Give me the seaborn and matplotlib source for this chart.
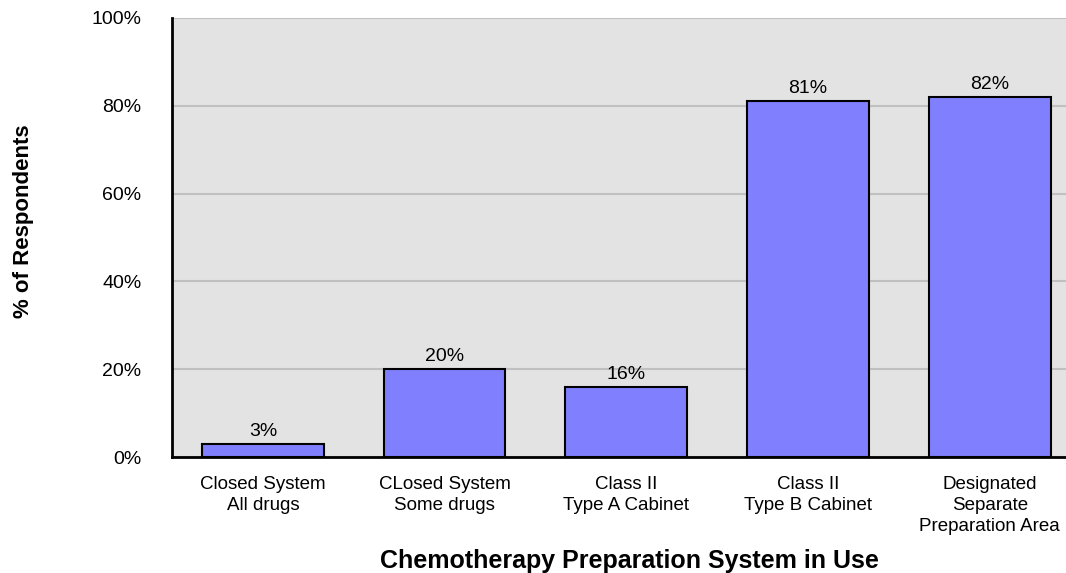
import pandas as pd
import matplotlib
matplotlib.use('Agg')
import matplotlib.pyplot as plt
import seaborn as sns

# chart data
categories = ['Closed System\nAll drugs', 'CLosed System\nSome drugs', 'Class II\nType A Cabinet',
              'Class II\nType B Cabinet', 'Designated\nSeparate\nPreparation Area']
percent = [3, 20, 16, 81, 82]
y_ticks = [0, 20, 40, 60, 80, 100]

df = pd.DataFrame({'System': categories, 'Percent': percent})

sns.set_style('white')
plt.rcParams['font.family'] = ['Liberation Sans', 'DejaVu Sans']
plt.rcParams['text.color'] = 'black'
plt.rcParams['xtick.color'] = 'black'
plt.rcParams['ytick.color'] = 'black'
plt.rcParams['axes.labelcolor'] = 'black'

fig = plt.figure(figsize=(10.66, 5.73), dpi=100)
ax = fig.add_axes([172 / 1066, 116 / 573, 894 / 1066, 439 / 573])
ax.set_facecolor('#e3e3e3')

sns.barplot(data=df, x='System', y='Percent', color='#8080ff', saturation=1,
            edgecolor='black', linewidth=1.5, width=0.67, ax=ax, zorder=3)

ax.set_ylim(0, 100)
ax.set_xlim(-0.5, 4.42)
ax.set_yticks(y_ticks)
ax.set_yticklabels([f'{t}%' for t in y_ticks])
ax.yaxis.grid(True, color='#c0c0c0', linewidth=1.5, zorder=0)
ax.set_axisbelow(True)

for c in ax.containers:
    ax.bar_label(c, labels=[f'{v}%' for v in percent], padding=3, fontsize=14)

ax.tick_params(axis='y', length=0, pad=22, labelsize=14)
ax.tick_params(axis='x', length=0, pad=13.5, labelsize=13.5)
for lbl in ax.get_xticklabels():
    lbl.set_linespacing(1.3)

for side in ['top', 'right']:
    ax.spines[side].set_visible(False)
for side in ['left', 'bottom']:
    ax.spines[side].set_color('black')
    ax.spines[side].set_linewidth(2)

ax.set_xlabel('Chemotherapy Preparation System in Use', fontsize=18, fontweight='bold')
ax.set_ylabel('% of Respondents', fontsize=16, fontweight='bold')
ax.xaxis.set_label_coords((629 - 172) / 894, -(561 - 457) / 439)
ax.xaxis.label.set_va('center')
ax.yaxis.set_label_coords(-(172 - 24) / 894, (457 - 221) / 439)
ax.yaxis.label.set_va('center')

fig.savefig('out.png', dpi=100)
